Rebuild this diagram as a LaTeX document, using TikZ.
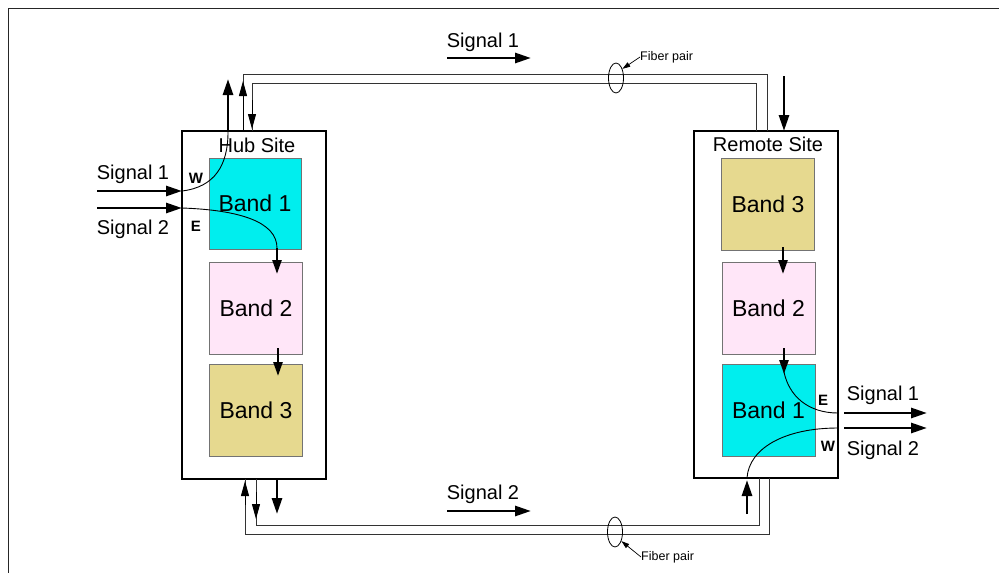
\documentclass[tikz,border=0pt]{standalone}
\usepackage{fontspec}
\setmainfont{Liberation Sans}
\usetikzlibrary{arrows.meta,shapes.geometric}
\definecolor{bcyan}{RGB}{0,238,238}
\definecolor{bpink}{RGB}{255,230,248}
\definecolor{bkhaki}{RGB}{230,217,143}
\tikzset{
  site/.style={draw=black, line width=1.6pt, minimum width=144pt, inner sep=0},
  band/.style={draw=black!55, line width=0.8pt, minimum width=93pt, minimum height=92pt, inner sep=0, font=\fontsize{23}{26}\selectfont},
  lbl/.style={inner sep=0, font=\fontsize{20}{24}\selectfont},
  ew/.style={inner sep=0, font=\fontsize{15}{17}\selectfont\bfseries},
  thk/.style={line width=2.8pt, -{Triangle[length=16pt,width=10pt]}},
  mid/.style={line width=2.5pt, -{Triangle[length=14pt,width=9pt]}},
  thn/.style={line width=0.9pt, -{Triangle[length=15pt,width=8pt]}},
  fib/.style={line width=0.9pt, draw=black!80},
  crv/.style={line width=0.9pt},
  fpl/.style={inner sep=0, font=\fontsize{12.5}{14}\selectfont},
  fpa/.style={line width=0.7pt, -{Triangle[length=8pt,width=5pt]}},
}
\begin{document}
\begin{tikzpicture}[x=1pt,y=-1pt]
\useasboundingbox (0,0) rectangle (999,573);
% frame
\draw[line width=1pt, black!85] (8,573) -- (8,8) -- (999,8);

% sites
\node[site, minimum height=348pt] (hub) at (254,305) {};
\node[site, minimum height=347pt] (rem) at (766,304.5) {};
\node[lbl] (hubl) at (257,145) {Hub Site};
\node[lbl] (reml) at (768,144) {Remote Site};

% hub bands
\node[band, fill=bcyan, minimum width=92pt, minimum height=91pt] (hb1) at (255,203.5) {Band 1};
\node[band, fill=bpink] (hb2) at (256,308.5) {Band 2};
\node[band, fill=bkhaki] (hb3) at (256,410) {Band 3};
% remote bands
\node[band, fill=bkhaki] (rb3) at (768,204) {Band 3};
\node[band, fill=bpink] (rb2) at (768.5,308) {Band 2};
\node[band, fill=bcyan] (rb1) at (768.5,410) {Band 1};

% coordinates
\coordinate (hW) at (182,191);
\coordinate (hE) at (182,208);
\coordinate (s1h) at (97,191);
\coordinate (s2h) at (97,208);
\coordinate (rE) at (838,413);
\coordinate (rW) at (838,428);
\coordinate (s1r) at (927,413);
\coordinate (s2r) at (927,428);
\coordinate (rE0) at (844,413);
\coordinate (rW0) at (844,428);

% hub side signals
\draw[thk] (s1h) -- (hW);
\draw[thk] (s2h) -- (hE);
\node[lbl] (hs1) at (133,174) {Signal 1};
\node[lbl] (hs2) at (133,229) {Signal 2};
\node[ew] (hwl) at (196,178) {W};
\node[ew] (hel) at (196,226) {E};

% hub W curve and up arrow
\coordinate (hWt) at (228,132);
\draw[crv] (hW) .. controls (215,187) and (228,165) .. (hWt);
\coordinate (hWo) at (228,79);
\draw[thk] (hWt) -- (hWo);
% hub E curve and arrow into band 2
\coordinate (hEt) at (277,248);
\draw[crv] (hE) .. controls (240,210) and (277,222) .. (hEt);
\coordinate (hb2in) at (277,274);
\draw[mid] (hEt) -- (hb2in);
% band2 -> band3 hub
\coordinate (hb2o) at (278,348);
\coordinate (hb3in) at (278,376);
\draw[mid] (hb2o) -- (hb3in);

% top fiber pair
\coordinate (ta) at (243,131);
\coordinate (tb) at (767,131);
\coordinate (tc) at (252,131);
\coordinate (td) at (756,131);
\draw[fib] (ta) |- (767,74) -- (tb);
\draw[fib] (td) |- (252,83) -- (tc);
\coordinate (taup) at (243,81);
\draw[thn] (ta) -- (taup);
\coordinate (tcs) at (252,100);
\coordinate (tce) at (252,129);
\draw[thn] (tcs) -- (tce);

% remote top thick arrow
\coordinate (rtop0) at (784,76);
\coordinate (rtop1) at (784,131);
\draw[thk] (rtop0) -- (rtop1);

% remote band arrows
\coordinate (rb3o) at (783,247);
\coordinate (rb2in) at (783,274);
\draw[mid] (rb3o) -- (rb2in);
\coordinate (rb2o) at (784,348);
\coordinate (rb1in) at (784,374);
\draw[mid] (rb2o) -- (rb1in);

% remote E and W curves
\draw[crv] (784,372) .. controls (789,396) and (808,413) .. (rE);
\coordinate (rWb) at (747,478);
\draw[crv] (rW) .. controls (785,428) and (749,448) .. (rWb);
\coordinate (rWo) at (747,514);
\coordinate (rWi) at (747,480);
\draw[thk] (rWo) -- (rWi);
\draw[thk] (rE0) -- (s1r);
\draw[thk] (rW0) -- (s2r);
\node[lbl] (rs1) at (883,395) {Signal 1};
\node[lbl] (rs2) at (883,450) {Signal 2};
\node[ew] (rel) at (823,400) {E};
\node[ew] (rwl) at (828,446) {W};

% bottom fiber pair
\coordinate (ba) at (759,478);
\coordinate (bb) at (256,479);
\coordinate (bc) at (769,478);
\coordinate (bd) at (245,479);
\draw[fib] (ba) |- (256,525) -- (bb);
\draw[fib] (bc) |- (245,534) -- (bd);
\coordinate (bds) at (245,505);
\coordinate (bde) at (245,481);
\draw[thn] (bds) -- (bde);
\coordinate (bbs) at (256,492);
\coordinate (bbe) at (256,519);
\draw[thn] (bbs) -- (bbe);
% hub bottom thick arrow
\coordinate (hbot0) at (277,480);
\coordinate (hbot1) at (277,514);
\draw[thk] (hbot0) -- (hbot1);

% link signal labels
\node[lbl] (ts1) at (483,42) {Signal 1};
\coordinate (ts1a) at (447,58);
\coordinate (ts1b) at (531,58);
\draw[thk] (ts1a) -- (ts1b);
\node[lbl] (bs2) at (483,494) {Signal 2};
\coordinate (bs2a) at (447,511);
\coordinate (bs2b) at (531,511);
\draw[thk] (bs2a) -- (bs2b);

% fiber pair marks
\node[draw, ellipse, line width=0.8pt, minimum width=15pt, minimum height=30pt, inner sep=0] (fp1) at (616,78) {};
\node[draw, ellipse, line width=0.8pt, minimum width=15pt, minimum height=30pt, inner sep=0] (fp2) at (615,532) {};
\node[fpl, anchor=west] (fl1) at (640,57) {Fiber pair};
\node[fpl, anchor=west] (fl2) at (641,557) {Fiber pair};
\draw[fpa] (fl1.west) -- (fp1.55);
\draw[fpa] (fl2.west) -- (fp2.-55);
\end{tikzpicture}
\end{document}
